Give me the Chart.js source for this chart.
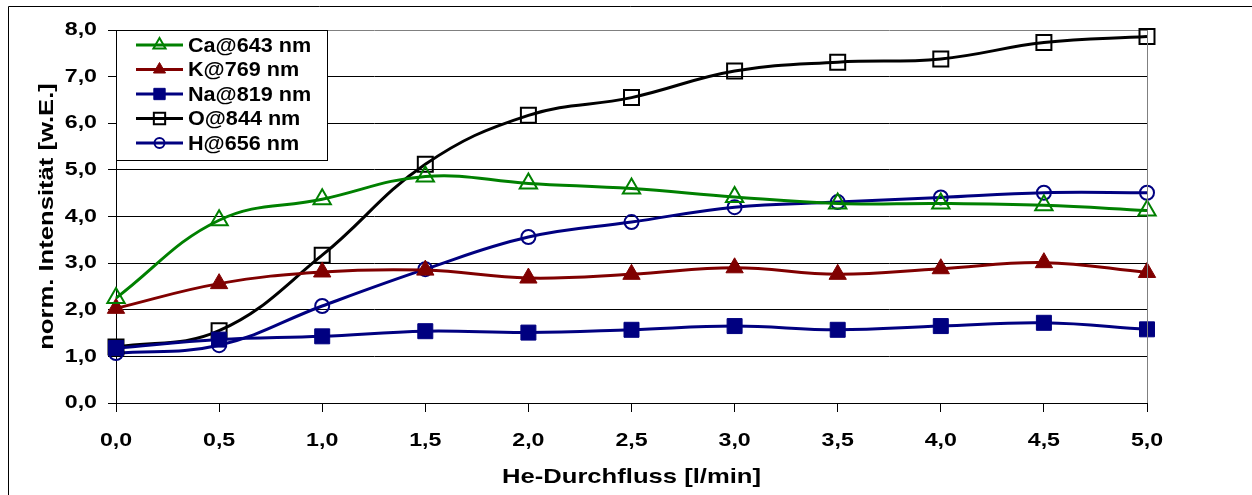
<!DOCTYPE html>
<html>
<head>
<meta charset="utf-8">
<script src="https://cdn.jsdelivr.net/npm/chart.js@4.4.0/dist/chart.umd.min.js"></script>
<style>
  html, body { margin: 0; padding: 0; background: #fff; }
  #wrap { width: 1252px; height: 495px; position: relative; }
</style>
</head>
<body>
<div id="wrap"><canvas id="myLineChart" width="1252" height="495"></canvas></div>
<script>
// He-Durchfluss [l/min]
var flow = [0, 0.5, 1.0, 1.5, 2.0, 2.5, 3.0, 3.5, 4.0, 4.5, 5.0];

// normierte Intensitaeten
var ca643 = [2.25, 3.92, 4.37, 4.86, 4.71, 4.60, 4.42, 4.28, 4.28, 4.24, 4.13];
var k769  = [2.03, 2.56, 2.81, 2.85, 2.68, 2.76, 2.90, 2.76, 2.88, 3.01, 2.80];
var na819 = [1.18, 1.36, 1.43, 1.54, 1.51, 1.57, 1.65, 1.57, 1.65, 1.72, 1.58];
var o844  = [1.20, 1.55, 3.17, 5.12, 6.17, 6.55, 7.12, 7.31, 7.38, 7.73, 7.86];
var h656  = [1.07, 1.24, 2.08, 2.87, 3.56, 3.88, 4.20, 4.31, 4.41, 4.51, 4.51];

var labels = ["Ca@643 nm", "K@769 nm", "Na@819 nm", "O@844 nm", "H@656 nm"];
var xTicks = [0, 0.5, 1.0, 1.5, 2.0, 2.5, 3.0, 3.5, 4.0, 4.5, 5.0];
var yTicks = [0, 1, 2, 3, 4, 5, 6, 7, 8];

function komma(v) {
  return Number(v).toFixed(1).replace('.', ',');
}

function serie(label, werte, farbe, stil, voll, radius) {
  return {
    label: label,
    data: flow.map(function(f, i) { return { x: f, y: werte[i] }; }),
    borderColor: farbe,
    backgroundColor: voll ? farbe : 'rgba(0,0,0,0)',
    borderWidth: 3,
    tension: 0.4,
    fill: false,
    clip: false,
    pointStyle: stil,
    pointRadius: radius,
    pointHoverRadius: radius,
    pointBorderColor: farbe,
    pointBackgroundColor: voll ? farbe : 'rgba(0,0,0,0)',
    pointBorderWidth: voll ? 1 : 2,
    legendRadius: radius * 0.7
  };
}

var datasets = [
  serie(labels[0], ca643, '#008000', 'triangle', false, 10),
  serie(labels[1], k769, '#800000', 'triangle', true, 10),
  serie(labels[2], na819, '#000080', 'rect', true, 10.6),
  serie(labels[3], o844, '#000000', 'rect', false, 10.6),
  serie(labels[4], h656, '#000080', 'circle', false, 7)
];
datasets[4].legendRadius = 5;
datasets[2].legendRadius = 8;
datasets[3].legendRadius = 8;

// Excel-Schrift wirkt breiter: fillText horizontal strecken
var canvas = document.getElementById('myLineChart');
var c2d = canvas.getContext('2d');
var origFillText = c2d.fillText;
c2d.textStretch = 1;
c2d.fillText = function(text, x, y) {
  var k = this.textStretch || 1;
  if (k === 1) return origFillText.call(this, text, x, y);
  this.save();
  this.translate(x, y);
  this.scale(k, 1);
  origFillText.call(this, text, 0, 0);
  this.restore();
};

// Rahmen, Plotflaeche und Legende
var excelLook = {
  id: 'excelLook',
  beforeDraw: function(chart) {
    chart.ctx.textStretch = 1.22;
  },
  afterDraw: function(chart) {
    var ctx = chart.ctx;
    var a = chart.chartArea;
    ctx.save();
    // aeusserer Rahmen
    ctx.strokeStyle = '#000';
    ctx.lineWidth = 1;
    ctx.beginPath();
    ctx.moveTo(8.5, 500);
    ctx.lineTo(8.5, 6.5);
    ctx.lineTo(1260, 6.5);
    ctx.stroke();
    // rechte Kante der Plotflaeche
    ctx.strokeStyle = '#808080';
    ctx.beginPath();
    ctx.moveTo(Math.round(a.right) + 0.5, a.top);
    ctx.lineTo(Math.round(a.right) + 0.5, a.bottom);
    ctx.stroke();

    // Legende
    var bx = a.left + 0.5, by = a.top + 0.5, bw = 211, bh = 130;
    ctx.fillStyle = '#fff';
    ctx.fillRect(bx, by, bw, bh);
    ctx.strokeStyle = '#000';
    ctx.strokeRect(bx, by, bw, bh);
    ctx.font = 'bold 20px "Liberation Sans", Arial, sans-serif';
    ctx.textBaseline = 'middle';
    ctx.textStretch = 1.08;
    chart.data.datasets.forEach(function(ds, i) {
      var y = a.top + 15 + i * 24.5;
      ctx.strokeStyle = ds.borderColor;
      ctx.lineWidth = 3;
      ctx.beginPath();
      ctx.moveTo(a.left + 20, y);
      ctx.lineTo(a.left + 67, y);
      ctx.stroke();
      ctx.fillStyle = ds.pointBackgroundColor;
      ctx.strokeStyle = ds.pointBorderColor;
      ctx.lineWidth = ds.pointBorderWidth;
      Chart.helpers.drawPoint(ctx, {
        pointStyle: ds.pointStyle,
        radius: ds.legendRadius,
        rotation: 0,
        borderWidth: ds.pointBorderWidth
      }, a.left + 43.5, y);
      ctx.fillStyle = '#000';
      ctx.textAlign = 'left';
      ctx.fillText(ds.label, a.left + 72, y + 1);
    });
    ctx.textStretch = 1.22;
    ctx.restore();
  }
};

var schrift = '"Liberation Sans", Arial, sans-serif';

var config = {
  type: 'line',
  data: { datasets: datasets },
  options: {
    responsive: false,
    animation: false,
    devicePixelRatio: 1,
    layout: { padding: { top: 30, right: 105, left: 0, bottom: 0 } },
    plugins: {
      legend: { display: false },
      tooltip: { enabled: false }
    },
    scales: {
      x: {
        type: 'linear',
        min: 0,
        max: 5,
        afterFit: function(scale) { scale.height = 92; },
        afterBuildTicks: function(scale) {
          scale.ticks = xTicks.map(function(v) { return { value: v }; });
        },
        ticks: {
          color: '#000',
          padding: 17,
          maxRotation: 0,
          autoSkip: false,
          font: { family: schrift, size: 19, weight: 'bold' },
          callback: function(v) { return komma(v); }
        },
        grid: {
          drawOnChartArea: false,
          drawTicks: true,
          tickLength: 9,
          tickColor: '#000'
        },
        border: { display: true, color: '#000', width: 1 },
        title: {
          display: true,
          text: 'He-Durchfluss [l/min]',
          color: '#000',
          padding: { top: 0, bottom: 5 },
          font: { family: schrift, size: 21, weight: 'bold' }
        }
      },
      y: {
        type: 'linear',
        min: 0,
        max: 8,
        afterFit: function(scale) { scale.width = 116; },
        afterBuildTicks: function(scale) {
          scale.ticks = yTicks.map(function(v) { return { value: v }; });
        },
        ticks: {
          color: '#000',
          padding: 11,
          font: { family: schrift, size: 19, weight: 'bold' },
          callback: function(v) { return komma(v); }
        },
        grid: {
          color: function(c) {
            if (c.tick && c.tick.value === 8) return '#808080';
            return '#000';
          },
          lineWidth: 1,
          tickLength: 8,
          tickColor: '#000'
        },
        border: { display: true, color: '#000', width: 1 },
        title: {
          display: true,
          text: 'norm. Intensität [w.E.]',
          color: '#000',
          padding: { top: 35, bottom: 0 },
          font: { family: schrift, size: 21, weight: 'bold' }
        }
      }
    }
  },
  plugins: [excelLook]
};

var myLineChart = new Chart(canvas, config);
</script>
</body>
</html>
